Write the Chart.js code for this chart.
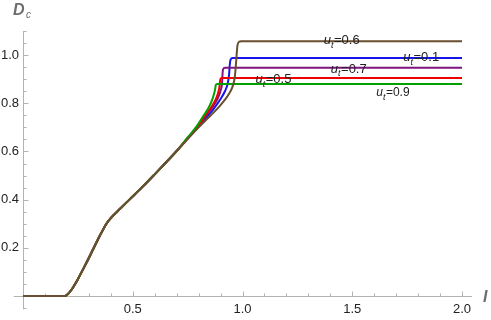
<!DOCTYPE html>
<html>
<head>
<meta charset="utf-8">
<script src="https://cdn.jsdelivr.net/npm/chart.js@4.4.0/dist/chart.umd.min.js"></script>
<style>
  html, body { margin: 0; padding: 0; background: #fff; }
  #wrap { width: 491px; height: 320px; }
</style>
</head>
<body>
<div id="wrap"><canvas id="myChart" width="491" height="320"></canvas></div>
<script>
// part shared by every curve (I, D_c)
const baseI = [0, 0.19, 0.2, 0.22, 0.25, 0.29, 0.32, 0.35, 0.38, 0.395, 0.41, 0.44, 0.486, 0.55, 0.6, 0.65, 0.70];
const baseD = [0, 0, 0.004, 0.025, 0.07, 0.14, 0.195, 0.25, 0.30, 0.318, 0.333, 0.36, 0.401, 0.458, 0.505, 0.553, 0.602];

// where each curve leaves the shared part
const tailI_01 = [0.75, 0.80, 0.84, 0.871, 0.90, 0.92, 0.932, 0.939, 0.942, 0.946, 0.955, 2.0];
const tailD_01 = [0.653, 0.703, 0.745, 0.78, 0.818, 0.85, 0.88, 0.92, 0.96, 0.982, 0.988, 0.988];

const tailI_05 = [0.75, 0.80, 0.83, 0.859, 0.88, 0.891, 0.896, 0.898, 0.905, 2.0];
const tailD_05 = [0.655, 0.708, 0.748, 0.785, 0.82, 0.85, 0.875, 0.895, 0.905, 0.905];

const tailI_07 = [0.75, 0.80, 0.835, 0.864, 0.888, 0.901, 0.907, 0.909, 0.911, 0.92, 2.0];
const tailD_07 = [0.654, 0.706, 0.75, 0.785, 0.822, 0.855, 0.885, 0.92, 0.94, 0.947, 0.947];

const tailI_09 = [0.75, 0.79, 0.82, 0.845, 0.862, 0.872, 0.876, 0.878, 0.885, 2.0];
const tailD_09 = [0.658, 0.703, 0.745, 0.78, 0.815, 0.845, 0.862, 0.875, 0.88, 0.88];

const tailI_06 = [0.75, 0.80, 0.85, 0.89, 0.92, 0.94, 0.955, 0.965, 0.97, 0.974, 0.977, 0.983, 0.995, 2.0];
const tailD_06 = [0.651, 0.70, 0.745, 0.782, 0.815, 0.842, 0.87, 0.91, 0.96, 1.01, 1.04, 1.054, 1.057, 1.057];

const xTicks = [0.5, 1.0, 1.5, 2.0];
const yTicks = [0.2, 0.4, 0.6, 0.8, 1.0];

function points(tailI, tailD) {
    const xs = baseI.concat(tailI);
    const ys = baseD.concat(tailD);
    return xs.map((x, k) => ({ x: x, y: ys[k] }));
}

// curve annotations, placed in data units
const curveLabels = [
    { text: '=0.6', I: 1.451, D: 1.064, size: 13 },
    { text: '=0.1', I: 1.813, D: 0.995, size: 13 },
    { text: '=0.7', I: 1.483, D: 0.947, size: 13 },
    { text: '=0.5', I: 1.140, D: 0.902, size: 13 },
    { text: '=0.9', I: 1.684, D: 0.847, size: 12 },
];

const FONT = "'Liberation Sans', Arial, sans-serif";
const AXIS = '#b3b3b3';

const axesPlugin = {
    id: 'mmaAxes',
    beforeDatasetsDraw(chart) {
        const { ctx, scales: { x, y } } = chart;
        const x0 = Math.round(x.getPixelForValue(0)) + 0.5;
        const y0 = Math.round(y.getPixelForValue(0)) + 0.5;
        ctx.save();
        ctx.strokeStyle = AXIS;
        ctx.lineWidth = 1;
        ctx.beginPath();
        ctx.moveTo(x.getPixelForValue(-0.042), y0);
        ctx.lineTo(x.getPixelForValue(2.046), y0);
        ctx.moveTo(x0, y.getPixelForValue(-0.056));
        ctx.lineTo(x0, y.getPixelForValue(1.1));
        // x ticks, pointing up
        for (let k = 1; k <= 20; k++) {
            const px = Math.round(x.getPixelForValue(k / 10)) + 0.5;
            const len = k % 5 === 0 ? 5 : 3;
            ctx.moveTo(px, y0);
            ctx.lineTo(px, y0 - len);
        }
        // y ticks, pointing right
        for (let k = -1; k <= 22; k++) {
            if (k === 0) continue;
            const py = Math.round(y.getPixelForValue(k / 20)) + 0.5;
            const len = k % 4 === 0 ? 5 : 3;
            ctx.moveTo(x0, py);
            ctx.lineTo(x0 + len, py);
        }
        ctx.stroke();
        ctx.restore();
    },
    afterDatasetsDraw(chart) {
        const { ctx, scales: { x, y } } = chart;
        ctx.save();
        ctx.fillStyle = '#222';
        ctx.textBaseline = 'alphabetic';
        curveLabels.forEach(l => {
            const s = l.size;
            const fU = `italic ${s}px ${FONT}`;
            const fT = `italic ${Math.round(s * 0.72)}px ${FONT}`;
            const fR = `${s}px ${FONT}`;
            ctx.font = fU; const wU = ctx.measureText('u').width;
            ctx.font = fT; const wT = ctx.measureText('t').width;
            ctx.font = fR; const wR = ctx.measureText(l.text).width;
            const cx = x.getPixelForValue(l.I);
            const base = y.getPixelForValue(l.D) + s * 0.36;
            let px = cx - (wU + wT + wR) / 2;
            ctx.font = fU; ctx.fillText('u', px, base); px += wU;
            ctx.font = fT; ctx.fillText('t', px, base + s * 0.28); px += wT + 0.5;
            ctx.font = fR; ctx.fillText(l.text, px, base);
        });
        ctx.restore();
    },
    afterDraw(chart) {
        const { ctx, scales: { x, y } } = chart;
        const x0 = x.getPixelForValue(0);
        const y0 = y.getPixelForValue(0);
        ctx.save();
        ctx.fillStyle = '#6e6e6e';
        ctx.textBaseline = 'alphabetic';
        ctx.font = `italic bold 16px ${FONT}`;
        ctx.fillText('D', x0 - 10, 15);
        ctx.font = `italic 10px ${FONT}`;
        ctx.fillText('c', x0 + 3, 17.5);
        ctx.font = `italic bold 16px ${FONT}`;
        ctx.fillText('I', x.getPixelForValue(2.0) + 21, y0 + 6);
        ctx.restore();
    }
};

// first dataset is drawn on top
const series = [
    { label: 'ut=0.6', color: 'rgb(105,78,48)', I: tailI_06, D: tailD_06 },
    { label: 'ut=0.9', color: 'rgb(0,160,0)', I: tailI_09, D: tailD_09 },
    { label: 'ut=0.5', color: 'rgb(240,0,0)', I: tailI_05, D: tailD_05 },
    { label: 'ut=0.7', color: 'rgb(128,20,128)', I: tailI_07, D: tailD_07 },
    { label: 'ut=0.1', color: 'rgb(20,20,235)', I: tailI_01, D: tailD_01 },
];

const data = {
    datasets: series.map(s => ({
        label: s.label,
        data: points(s.I, s.D),
        borderColor: s.color,
        backgroundColor: s.color,
        borderWidth: 2,
        pointRadius: 0,
        fill: false,
        clip: false,
        cubicInterpolationMode: 'monotone',
    }))
};

const tickFont = { family: FONT, size: 13 };

const config = {
    type: 'line',
    data,
    options: {
        responsive: false,
        animation: false,
        devicePixelRatio: 1,
        layout: { padding: { top: 31, right: 29, left: 0, bottom: 0 } },
        plugins: { legend: { display: false }, tooltip: { enabled: false } },
        scales: {
            x: {
                type: 'linear', min: 0, max: 2,
                grid: { display: false, drawTicks: false },
                border: { display: false },
                afterBuildTicks: s => { s.ticks = xTicks.map(v => ({ value: v })); },
                afterFit: s => { s.height = 24; },
                ticks: { autoSkip: false, maxRotation: 0, padding: 6, color: '#222', font: tickFont,
                    callback: v => Number(v).toFixed(1) }
            },
            y: {
                type: 'linear', min: 0, max: 1.1,
                grid: { display: false, drawTicks: false },
                border: { display: false },
                afterBuildTicks: s => { s.ticks = yTicks.map(v => ({ value: v })); },
                afterFit: s => { s.width = 23; },
                ticks: { autoSkip: false, padding: 4, color: '#222', font: tickFont,
                    callback: v => Number(v).toFixed(1) }
            }
        }
    },
    plugins: [axesPlugin]
};

var myChart = new Chart(document.getElementById('myChart'), config);
</script>
</body>
</html>
